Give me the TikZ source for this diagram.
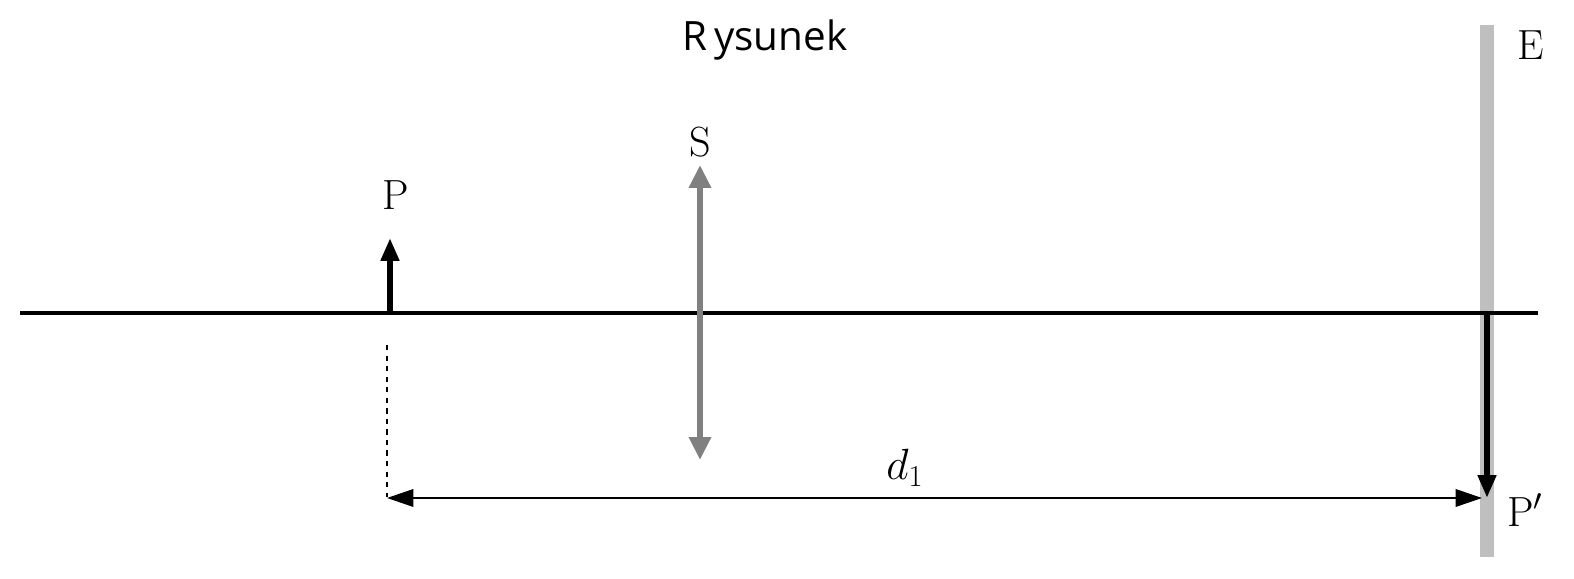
\documentclass[tikz,border=0pt]{standalone}
\usepackage{fontspec}
\newfontfamily\titlefont{Open Sans}
\usetikzlibrary{arrows.meta}
\begin{document}
\begin{tikzpicture}[
  lbl/.style={font=\fontsize{24}{28}\selectfont},
  obj/.style={line width=3.2pt,-{Triangle[width=10pt,length=13pt]}},
]
\useasboundingbox (0,0) rectangle (31.48,11.58);
\fill[gray!50] (29.6,0.44) rectangle (29.88,11.08);
\coordinate (A1) at (0.4,5.32); \coordinate (A2) at (30.76,5.32);
\draw[line width=2pt] (A1) -- (A2);
\coordinate (Pb) at (7.8,5.32); \coordinate (Pt) at (7.8,6.82);
\draw[obj] (Pb) -- (Pt);
\coordinate (St) at (14,8.28); \coordinate (Sb) at (14,2.38);
\draw[gray,line width=3.8pt,{Triangle[width=12pt,length=13pt]}-{Triangle[width=12pt,length=13pt]}] (Sb) -- (St);
\coordinate (Qb) at (29.74,5.32); \coordinate (Qt) at (29.74,1.62);
\draw[obj] (Qb) -- (Qt);
\coordinate (D1) at (7.74,4.68); \coordinate (D2) at (7.74,1.64);
\draw[dashed,line width=0.9pt] (D1) -- (D2);
\coordinate (L) at (7.74,1.62); \coordinate (R) at (29.64,1.62);
\draw[line width=1pt,{Triangle[width=10pt,length=15pt]}-{Triangle[width=10pt,length=15pt]}] (L) -- (R);
\node[lbl] (p) at (7.92,7.68) {P};
\node[lbl] (s) at (14,8.74) {S};
\node[lbl] (e) at (30.62,10.68) {E};
\node[lbl] (pp) at (30.5,1.38) {P$'$};
\node[lbl] (d) at (18.1,2.22) {$d_1$};
\node[font=\titlefont\fontsize{23}{27}\selectfont] (t) at (15.3,10.78) {R\,ysunek};
\end{tikzpicture}
\end{document}
